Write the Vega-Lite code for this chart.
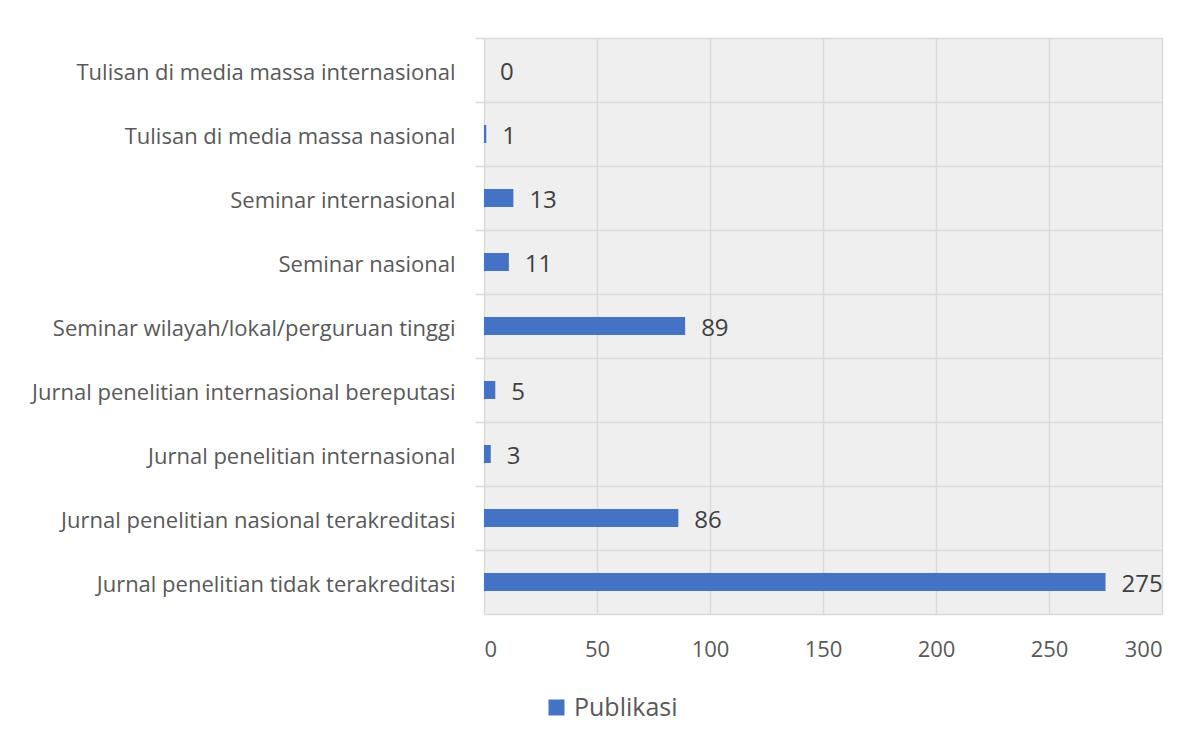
{
  "$schema": "https://vega.github.io/schema/vega-lite/v6.json",
  "width": 678,
  "height": 576,
  "autosize": {"type": "none"},
  "padding": {"left": 484, "top": 38, "right": 42, "bottom": 128},
  "background": "white",
  "data": {"values": [
    {"kategori": "Tulisan di media massa internasional", "jumlah": 0},
    {"kategori": "Tulisan di media massa nasional", "jumlah": 1},
    {"kategori": "Seminar internasional", "jumlah": 13},
    {"kategori": "Seminar nasional", "jumlah": 11},
    {"kategori": "Seminar wilayah/lokal/perguruan tinggi", "jumlah": 89},
    {"kategori": "Jurnal penelitian internasional bereputasi", "jumlah": 5},
    {"kategori": "Jurnal penelitian internasional", "jumlah": 3},
    {"kategori": "Jurnal penelitian nasional terakreditasi", "jumlah": 86},
    {"kategori": "Jurnal penelitian tidak terakreditasi", "jumlah": 275}
  ]},
  "encoding": {
    "y": {
      "field": "kategori", "type": "nominal", "sort": null,
      "scale": {"paddingInner": 0, "paddingOuter": 0},
      "axis": {
        "title": null, "domain": false, "bandPosition": 0,
        "ticks": true, "tickSize": 9, "tickColor": "#d9d9d9", "tickWidth": 1.5,
        "grid": true, "gridColor": "#d9d9d9", "gridWidth": 1.5,
        "labelFont": "Open Sans", "labelFontSize": 22, "labelColor": "#595959",
        "labelPadding": 20, "labelLimit": 600, "labelOffset": 3
      }
    },
    "x": {
      "field": "jumlah", "type": "quantitative",
      "scale": {"domain": [0, 300], "nice": false},
      "axis": {
        "title": null, "values": [0, 50, 100, 150, 200, 250, 300],
        "domain": true, "domainColor": "#d9d9d9", "domainWidth": 1.5,
        "ticks": false, "grid": true, "gridColor": "#d9d9d9", "gridWidth": 1.5,
        "labelFont": "Open Sans", "labelFontSize": 22, "labelColor": "#595959",
        "labelPadding": 25
      }
    }
  },
  "layer": [
    {
      "mark": {"type": "bar", "size": 18},
      "encoding": {
        "color": {
          "datum": "Publikasi",
          "scale": {"range": ["#4472C4"]},
          "legend": {
            "title": null, "orient": "none", "legendX": 60, "legendY": 657,
            "symbolType": "square", "symbolSize": 256, "symbolStrokeWidth": 0,
            "labelFont": "Open Sans", "labelFontSize": 25, "labelColor": "#595959",
            "padding": 0, "labelOffset": 5
          }
        }
      }
    },
    {
      "mark": {"type": "text", "align": "left", "baseline": "middle", "dx": 16, "dy": 3,
        "font": "Open Sans", "fontSize": 24, "color": "#404040"},
      "encoding": {"text": {"field": "jumlah", "type": "quantitative"}}
    }
  ],
  "config": {
    "view": {"fill": "#efefef", "stroke": null}
  }
}
